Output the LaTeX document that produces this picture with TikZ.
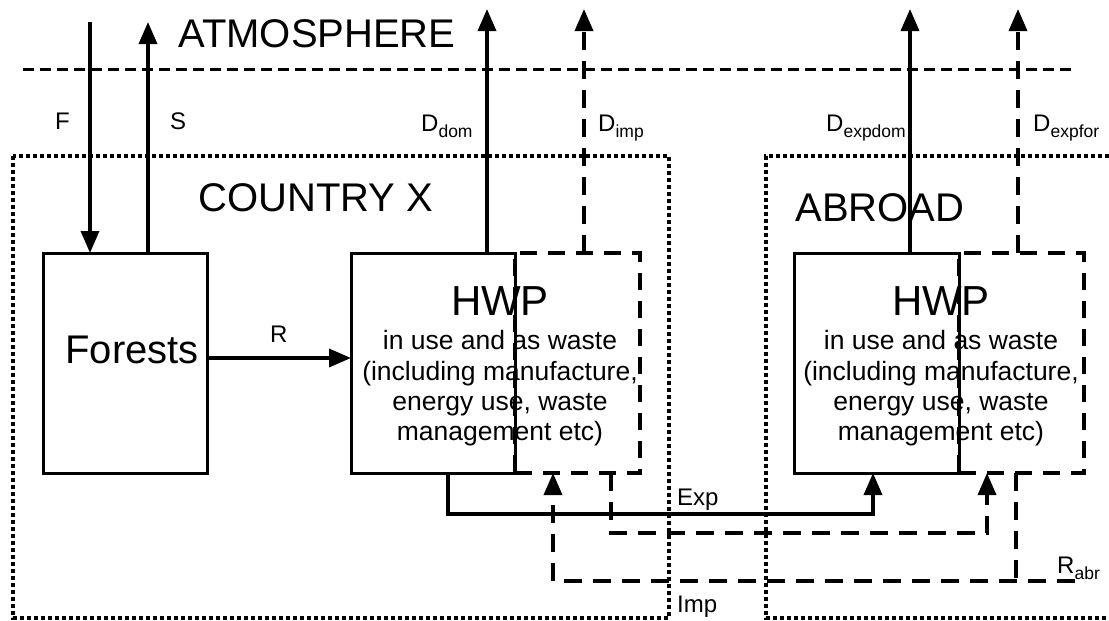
\documentclass[tikz,border=0pt]{standalone}
\usepackage{fontspec}
\setmainfont{Liberation Sans}
\usetikzlibrary{arrows.meta}
\newcommand{\subtxt}[1]{\raisebox{-6pt}{\fontsize{17.5}{18}\selectfont #1}}
\begin{document}
\begin{tikzpicture}[x=1pt,y=-1pt,
  big/.style={font=\fontsize{40}{44}\selectfont, inner sep=0, anchor=base},
  lbl/.style={font=\fontsize{24}{26}\selectfont, inner sep=0, anchor=base west},
  small/.style={font=\fontsize{26.5}{30}\selectfont, inner sep=0, anchor=base},
  solidbox/.style={draw, line width=3pt, inner sep=0, outer sep=0},
  dashbox/.style={draw, line width=4pt, dash pattern=on 17pt off 11pt, inner sep=0, outer sep=0},
  conn/.style={line width=3.5pt, -{Triangle[length=22pt,width=18pt]}},
  dconn/.style={conn, dash pattern=on 18pt off 11pt},
  dline/.style={line width=4pt, dash pattern=on 18pt off 11pt},
  dotbox/.style={line width=4pt, dash pattern=on 4pt off 3pt},
  atm/.style={line width=3pt, dash pattern=on 11pt off 6pt},
]
\useasboundingbox (0,0) rectangle (1109,621);

% frames
\draw[atm] (23,69) -- (1075,69);
\draw[dotbox] (13,156) rectangle (669,618);
\draw[dotbox] (1109,156) -- (766,156) -- (766,618) -- (1109,618);

% titles
\node[big] (atmT) at (317,47) {ATMOSPHERE};
\node[big] (countryT) at (316,211) {COUNTRY X};
\node[big] (abroadT) at (880,221) {ABROAD};

% boxes
\node[solidbox, minimum width=164pt, minimum height=220pt] (forests) at (125,363) {};
\node[font=\fontsize{40}{44}\selectfont, inner sep=0] (forestsT) at (132,350) {Forests};

\node[dashbox, minimum width=125pt, minimum height=220pt] (hwpAd) at (577.5,363) {};
\node[solidbox, minimum width=164pt, minimum height=220pt] (hwpA) at (433,363) {};
\node[dashbox, minimum width=125pt, minimum height=220pt] (hwpBd) at (1021.5,363) {};
\node[solidbox, minimum width=165pt, minimum height=220pt] (hwpB) at (876.5,363) {};

% HWP texts (country)
\node[big, font=\fontsize{42}{44}\selectfont] (hwpAt) at (500,315) {HWP};
\node[small] (hwpA1) at (500,349) {in use and as waste};
\node[small] (hwpA2) at (500,380) {(including manufacture,};
\node[small] (hwpA3) at (500,410) {energy use, waste};
\node[small] (hwpA4) at (500,440) {management etc)};
% HWP texts (abroad)
\node[big, font=\fontsize{42}{44}\selectfont] (hwpBt) at (941,315) {HWP};
\node[small] (hwpB1) at (941,349) {in use and as waste};
\node[small] (hwpB2) at (941,380) {(including manufacture,};
\node[small] (hwpB3) at (941,410) {energy use, waste};
\node[small] (hwpB4) at (941,440) {management etc)};

% labels
\node[lbl] (lF) at (55,129) {F};
\node[lbl] (lS) at (170,129) {S};
\node[lbl] (lDdom) at (421,131) {D\subtxt{dom}};
\node[lbl] (lDimp) at (598,131) {D\subtxt{imp}};
\node[lbl] (lDexpdom) at (826,131) {D\subtxt{expdom}};
\node[lbl] (lDexpfor) at (1033,131) {D\subtxt{expfor}};
\node[lbl] (lR) at (270,342) {R};
\node[lbl] (lExp) at (677,505) {Exp};
\node[lbl] (lImp) at (677,612) {Imp};
\node[lbl] (lRabr) at (1057,573) {R\subtxt{abr}};

% vertical flows to/from atmosphere
\coordinate (fTop) at (90,22);
\draw[conn] (fTop) -- (fTop |- forests.north);
\coordinate (sTop) at (148,22);
\draw[conn] (sTop |- forests.north) -- (sTop);
\coordinate (ddomTop) at (487,9);
\draw[conn] (ddomTop |- hwpA.north) -- (ddomTop);
\coordinate (dimpTop) at (584,9);
\draw[dconn] (dimpTop |- hwpAd.north) -- (dimpTop);
\coordinate (dexpdomTop) at (910,9);
\draw[conn] (dexpdomTop |- hwpB.north) -- (dexpdomTop);
\coordinate (dexpforTop) at (1018,9);
\draw[dconn] (dexpforTop |- hwpBd.north) -- (dexpforTop);

% R
\coordinate (rY) at (0,358);
\draw[conn] (forests.east |- rY) -- (hwpA.west |- rY);

% Exp
\coordinate (e1) at (448,514);
\coordinate (e2) at (873,514);
\draw[conn] (e1 |- hwpA.south) -- (e1) -- (e2) -- (e2 |- hwpB.south);

% re-export of imported HWP
\coordinate (x1) at (611,533);
\coordinate (x2) at (987,533);
\draw[dconn] (x1 |- hwpAd.south) -- (x1) -- (x2) -- (x2 |- hwpBd.south);

% Imp / R_abr
\coordinate (r0) at (1075,581);
\coordinate (r1) at (553,581);
\coordinate (r2) at (1016,581);
\draw[dconn] (r0) -- (r1) -- (r1 |- hwpAd.south);
\draw[dline] (r2 |- hwpBd.south) -- (r2);
\end{tikzpicture}
\end{document}
